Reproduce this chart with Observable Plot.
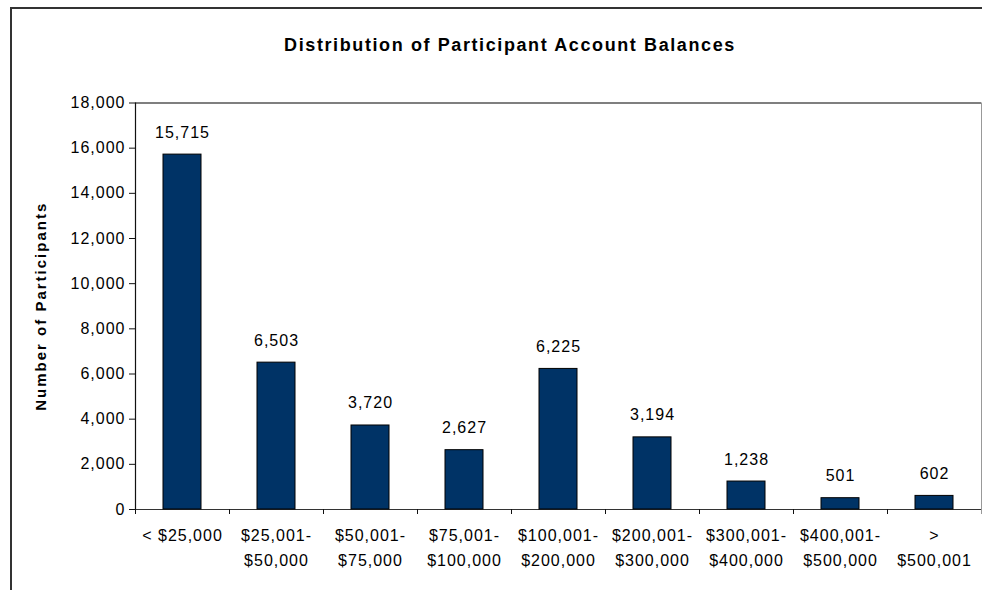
<!DOCTYPE html>
<html>
<head>
<meta charset="utf-8">
<script src="https://cdn.jsdelivr.net/npm/d3@7"></script>
<script src="https://cdn.jsdelivr.net/npm/@observablehq/plot@0.6"></script>
<style>
  html, body { margin: 0; padding: 0; background: #fff; }
  #wrap { position: relative; width: 982px; height: 590px; overflow: hidden; font-family: "Liberation Sans", Arial, sans-serif; }
  #border { position: absolute; left: 10px; top: 7px; right: -5px; bottom: -5px; border-left: 2px solid #333; border-top: 2px solid #333; }
  #title { position: absolute; left: 510px; top: 36px; transform: translateX(-50%); font-weight: bold; font-size: 18px; line-height: 1; letter-spacing: 1.6px; white-space: nowrap; color: #000; }
  #chart { position: absolute; left: 0; top: 0; }
</style>
</head>
<body>
<div id="wrap">
  <div id="border"></div>
  <div id="chart"></div>
  <div id="title">Distribution of Participant Account Balances</div>
</div>
<script>
const categories = [
  "< $25,000",
  "$25,001-\n$50,000",
  "$50,001-\n$75,000",
  "$75,001-\n$100,000",
  "$100,001-\n$200,000",
  "$200,001-\n$300,000",
  "$300,001-\n$400,000",
  "$400,001-\n$500,000",
  ">\n$500,001"
];
const counts = [15715, 6503, 3720, 2627, 6225, 3194, 1238, 501, 602];
const yTicks = [0, 2000, 4000, 6000, 8000, 10000, 12000, 14000, 16000, 18000];
const yLabel = "Number of Participants";

const data = categories.map((c, i) => ({category: c, count: counts[i]}));
const fmt = d3.format(",");
const half = 47;

const chart = Plot.plot({
  width: 982,
  height: 590,
  marginTop: 102.5,
  marginBottom: 81,
  marginLeft: 135,
  marginRight: 1,
  style: {fontFamily: "'Liberation Sans', Arial, sans-serif", fontSize: "16px", color: "#000", background: "transparent", letterSpacing: "1px"},
  x: {domain: categories, paddingInner: 0.6, paddingOuter: 0.3, axis: null},
  y: {domain: [0, 18000], axis: null},
  marks: [
    Plot.frame({stroke: "#999"}),
    Plot.ruleY([0, 18000], {stroke: "#333", strokeWidth: 1.2}),
    Plot.ruleX([categories[0]], {dx: -half, y1: 0, y2: 18000, stroke: "#111", strokeWidth: 1.2}),
    Plot.axisY({ticks: yTicks, tickSize: 6, tickPadding: 4, tickFormat: fmt, label: null, fontSize: 16, fill: "#000", stroke: "#111"}),
    Plot.axisX({ticks: categories, tickSize: 5, tickFormat: () => "", dx: -half, label: null, stroke: "#111"}),
    Plot.axisX({ticks: [categories[categories.length - 1]], tickSize: 5, tickFormat: () => "", dx: half, label: null, stroke: "#999"}),
    Plot.axisX({ticks: categories, tickSize: 0, tickPadding: 14, lineHeight: 1.56, label: null, fontSize: 16, fill: "#000"}),
    Plot.barY(data, {x: "category", y: "count", fill: "#003366", stroke: "#000", strokeWidth: 1}),
    Plot.text(data, {x: "category", y: "count", text: d => fmt(d.count), dy: -17, lineAnchor: "bottom", fontSize: 16, fill: "#000", style: "letter-spacing:0.8px"}),
    Plot.text([yLabel], {frameAnchor: "left", textAnchor: "middle", rotate: -90, dx: -94, text: d => d, fontSize: 15, fontWeight: "bold", fill: "#000"})
  ]
});
chart.querySelectorAll("text").forEach(t => {
  if (t.textContent === yLabel) t.setAttribute("letter-spacing", "2px");
});
document.getElementById("chart").appendChild(chart);
</script>
</body>
</html>
